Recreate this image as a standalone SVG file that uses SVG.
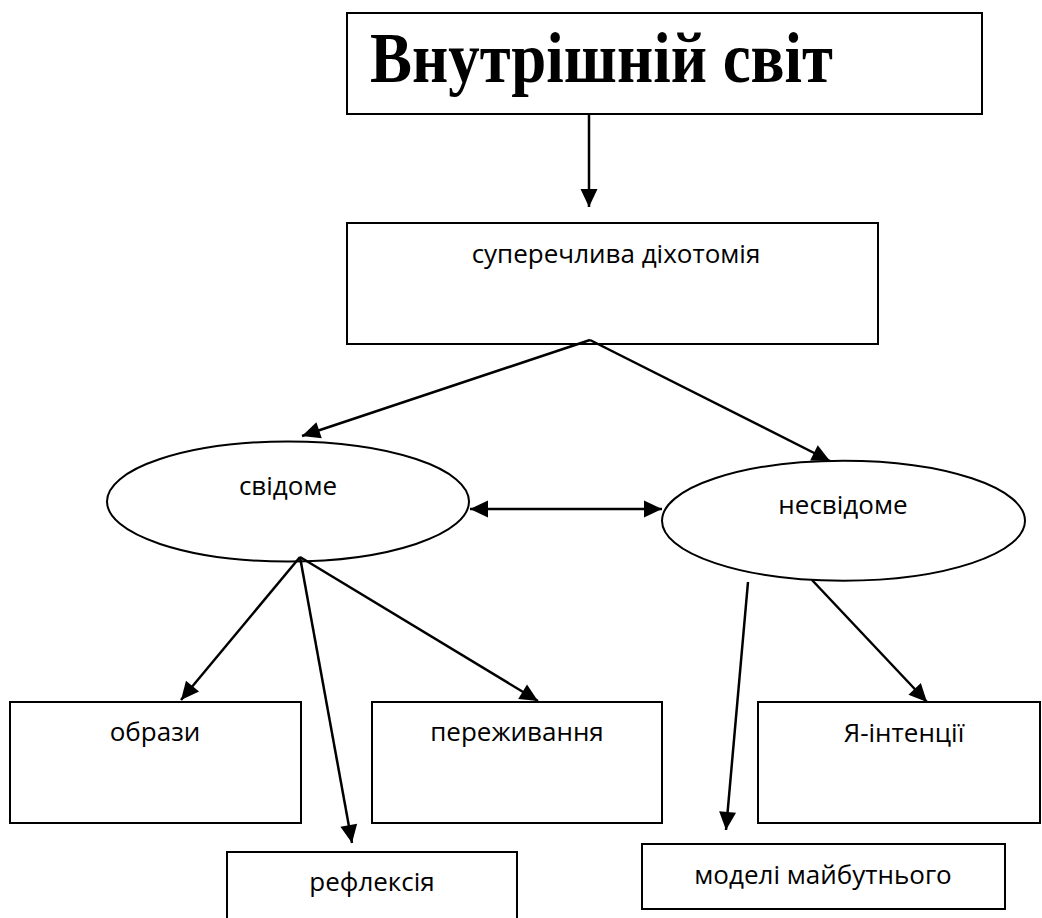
<svg xmlns="http://www.w3.org/2000/svg" width="1042" height="918" viewBox="0 0 1042 918">
  <style>
    .box { fill: #fff; stroke: #000; stroke-width: 2; }
    .oval { fill: #fff; stroke: #000; stroke-width: 2; }
    .lbl { font-family: "Open Sans", "Noto Sans", sans-serif; font-size: 26px; fill: #000; text-anchor: middle; }
    .title { font-family: "Liberation Serif", "Times New Roman", serif; font-weight: bold; font-size: 72px; fill: #000; }
    .conn { stroke: #000; stroke-width: 2.5; fill: none; }
  </style>
  <defs>
    <marker id="arrow" markerUnits="userSpaceOnUse" markerWidth="20" markerHeight="18" refX="18" refY="8.5" orient="auto-start-reverse" overflow="visible">
      <path d="M0,0 L18,8.5 L0,17 z" fill="#000"/>
    </marker>
  </defs>

  <!-- nodes -->
  <g id="inner-world">
    <rect class="box" x="347" y="13" width="635" height="101"/>
    <text class="title" x="370" y="82" textLength="463" lengthAdjust="spacingAndGlyphs">Внутрішній світ</text>
  </g>
  <g id="dichotomy">
    <rect class="box" x="347" y="223" width="531" height="121"/>
    <text class="lbl" x="616" y="263">суперечлива діхотомія</text>
  </g>
  <g id="conscious">
    <ellipse class="oval" cx="288" cy="501.5" rx="181" ry="60"/>
    <text class="lbl" x="288" y="495">свідоме</text>
  </g>
  <g id="unconscious">
    <ellipse class="oval" cx="843.5" cy="520.7" rx="181.5" ry="60"/>
    <text class="lbl" x="843" y="514">несвідоме</text>
  </g>
  <g id="images">
    <rect class="box" x="10" y="702" width="291" height="121"/>
    <text class="lbl" x="155" y="741">образи</text>
  </g>
  <g id="experiences">
    <rect class="box" x="372" y="702" width="290" height="121"/>
    <text class="lbl" x="517" y="741">переживання</text>
  </g>
  <g id="reflection">
    <rect class="box" x="227" y="852" width="290" height="80"/>
    <text class="lbl" x="372" y="891">рефлексія</text>
  </g>
  <g id="self-intentions">
    <rect class="box" x="758" y="702" width="282" height="121"/>
    <text class="lbl" x="904" y="742">Я-інтенції</text>
  </g>
  <g id="future-models">
    <rect class="box" x="642" y="844" width="363" height="65"/>
    <text class="lbl" x="823" y="884">моделі майбутнього</text>
  </g>

  <!-- connectors -->
  <g id="connectors">
    <line class="conn" x1="589" y1="114" x2="589" y2="207" marker-end="url(#arrow)"/>
    <line class="conn" x1="590" y1="340" x2="302" y2="436" marker-end="url(#arrow)"/>
    <line class="conn" x1="590" y1="340" x2="830" y2="461" marker-end="url(#arrow)"/>
    <line class="conn" x1="470" y1="509" x2="662" y2="509" marker-start="url(#arrow)" marker-end="url(#arrow)"/>
    <line class="conn" x1="300" y1="557" x2="181" y2="700" marker-end="url(#arrow)"/>
    <line class="conn" x1="300" y1="557" x2="352" y2="843" marker-end="url(#arrow)"/>
    <line class="conn" x1="300" y1="557" x2="538" y2="701" marker-end="url(#arrow)"/>
    <line class="conn" x1="748" y1="582" x2="726" y2="830" marker-end="url(#arrow)"/>
    <line class="conn" x1="812" y1="580" x2="927" y2="702" marker-end="url(#arrow)"/>
  </g>
</svg>
